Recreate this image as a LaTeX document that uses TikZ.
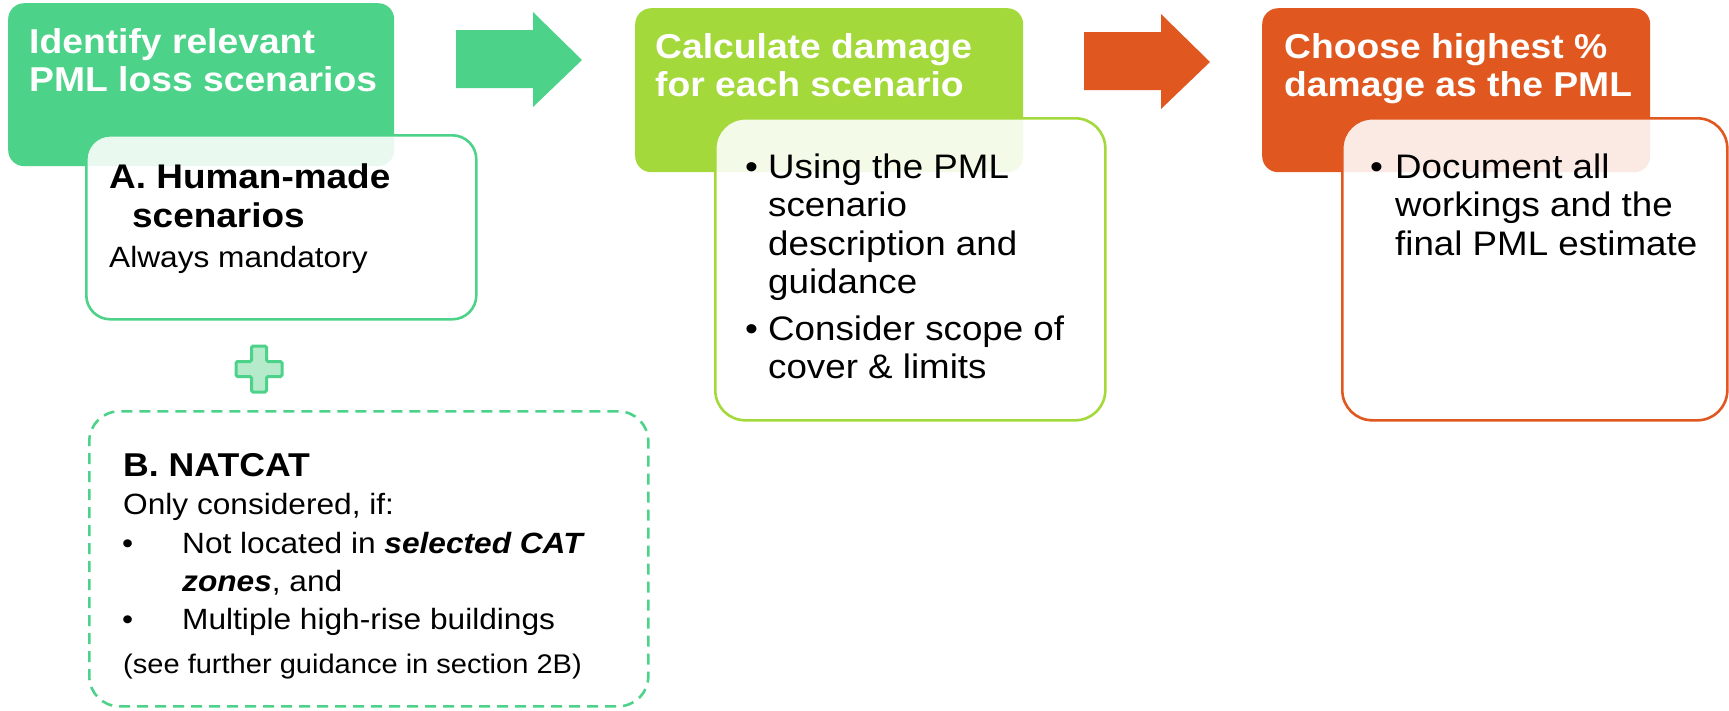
\documentclass[tikz,border=0pt]{standalone}
\usepackage{fontspec}
\setmainfont[FakeStretch=1.08]{Liberation Sans}
\definecolor{pmlgreen}{HTML}{4DD28A}
\definecolor{pmllime}{HTML}{A3D93A}
\definecolor{pmlorange}{HTML}{E0571F}
\definecolor{pluslight}{HTML}{B5EBCB}
\begin{document}
\begin{tikzpicture}[x=1pt,y=-1pt]
        \tikzset{
            headbox/.style={rectangle,rounded corners=16pt,anchor=north west,inner sep=0},
            bodybox/.style={rectangle,rounded corners=30pt,anchor=north west,inner sep=0,line width=2.6pt,fill=white,fill opacity=0.88},
            headtext/.style={anchor=base west,inner sep=0,text=white,font=\fontsize{34.5}{38.5}\selectfont\bfseries},
            bodytext/.style={anchor=base west,inner sep=0,font=\fontsize{34}{38.5}\selectfont},
            smalltext/.style={anchor=base west,inner sep=0,font=\fontsize{29.3}{35}\selectfont},
        }
        \useasboundingbox (0,0) rectangle (1729,710);

        % header boxes
        \node[headbox,fill=pmlgreen,minimum width=386pt,minimum height=163pt] (h1) at (8,3) {};
        \node[headbox,fill=pmllime,minimum width=388pt,minimum height=164pt] (h2) at (635,8) {};
        \node[headbox,fill=pmlorange,minimum width=388pt,minimum height=164pt] (h3) at (1262,8) {};

        % block arrows
        \fill[pmlgreen] (456,30) -- (533,30) -- (533,12) -- (582,60) -- (533,107) -- (533,88) -- (456,88) -- cycle;
        \fill[pmlorange] (1084,32) -- (1161,32) -- (1161,14) -- (1210,62) -- (1161,109) -- (1161,90) -- (1084,90) -- cycle;

        % detail boxes
        \node[bodybox,draw=pmlgreen,rounded corners=24pt,minimum width=390pt,minimum height=184pt] (b1) at (85,134) {};
        \node[bodybox,draw=pmllime,minimum width=390pt,minimum height=302pt] (b2) at (714,117) {};
        \node[bodybox,draw=pmlorange,minimum width=385pt,minimum height=302pt] (b3) at (1341,117) {};
        \node[bodybox,draw=pmlgreen,dash pattern=on 11pt off 7pt,minimum width=559pt,minimum height=295pt] (nat) at (88,410) {};

        % plus sign
        \draw[pmlgreen,line width=3pt,fill=pluslight,rounded corners=1.5pt]
            (251.5,346) -- (266.5,346) -- (266.5,361.5) -- (282,361.5) -- (282,376.5) -- (266.5,376.5)
            -- (266.5,392) -- (251.5,392) -- (251.5,376.5) -- (236,376.5) -- (236,361.5) -- (251.5,361.5) -- cycle;

        \foreach \t [count=\i] in {Identify relevant, PML loss scenarios}
            \node[headtext] (h1l\i) at (29,{53+38.5*(\i-1)}) {\t};
        \foreach \t [count=\i] in {Calculate damage, for each scenario}
            \node[headtext] (h2l\i) at (655,{58+38.5*(\i-1)}) {\t};
        \foreach \t [count=\i] in {Choose highest \%, damage as the PML}
            \node[headtext] (h3l\i) at (1284,{58+38.5*(\i-1)}) {\t};

        \node[bodytext,font=\fontsize{34.2}{38.5}\selectfont\bfseries] (b1l1) at (109,188) {A. Human-made};
        \node[bodytext,font=\fontsize{34.2}{38.5}\selectfont\bfseries] (b1l2) at (132,227) {scenarios};
        \node[smalltext] (b1l3) at (109,267) {Always mandatory};

        \node[bodytext] (b2d1) at (745,178) {•};
        \foreach \t [count=\i] in {Using the PML, scenario, description and, guidance}
            \node[bodytext] (b2l\i) at (768,{178+38.5*(\i-1)}) {\t};
        \node[bodytext] (b2d2) at (745,340) {•};
        \node[bodytext] (b2l5) at (768,340) {Consider scope of};
        \node[bodytext] (b2l6) at (768,378) {cover \& limits};

        \node[bodytext] (b3d1) at (1370,178) {•};
        \foreach \t [count=\i] in {Document all, workings and the, final PML estimate}
            \node[bodytext] (b3l\i) at (1395,{178+38.5*(\i-1)}) {\t};

        \node[bodytext,font=\fontsize{33}{38.5}\selectfont\bfseries] (natl1) at (123,476) {B. NATCAT};
        \node[smalltext] (natl2) at (123,514) {Only considered, if:};
        \node[smalltext] (natd1) at (122,553) {•};
        \node[smalltext] (natl3) at (182,553) {Not located in \textbf{\textit{selected CAT}}};
        \node[smalltext] (natl4) at (182,591) {\textbf{\textit{zones}}, and};
        \node[smalltext] (natd2) at (122,629) {•};
        \node[smalltext] (natl5) at (182,629) {Multiple high-rise buildings};
        \node[smalltext,font=\fontsize{26.9}{32}\selectfont] (natl6) at (123,673) {(see further guidance in section 2B)};
    \end{tikzpicture}
\end{document}
